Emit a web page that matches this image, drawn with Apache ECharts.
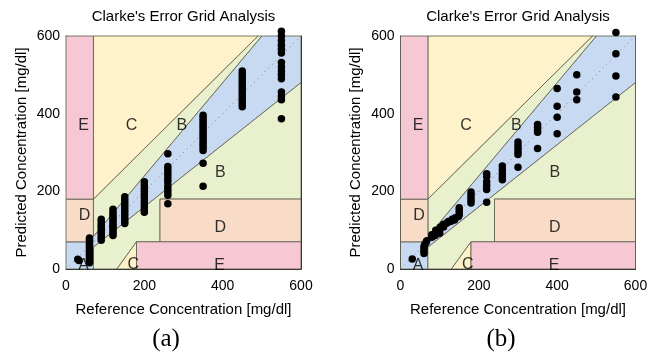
<!DOCTYPE html>
<html>
<head>
    <meta charset="utf-8"/>
    <title>Clarke's Error Grid Analysis</title>
    <script src="https://cdn.jsdelivr.net/npm/echarts@6/dist/echarts.min.js"></script>
    <style>
        html, body { margin: 0; padding: 0; background: #fff; }
        #main { width: 657px; height: 354px; }
    </style>
</head>
<body>
<div id="main"></div>
<script type="text/javascript">
    /* axis ticks */
    var ticks = [0, 200, 400, 600];

    /* panel (a): reference vs predicted */
    var refA = [30, 33,
        60, 60, 60, 60, 60, 60, 60, 60, 60, 60, 60, 60, 60, 60, 60, 60, 60,
        90, 90, 90, 90, 90, 90, 90, 90, 90, 90,
        120, 120, 120, 120, 120, 120, 120, 120, 120, 120, 120, 120,
        150, 150, 150, 150, 150, 150, 150, 150, 150, 150, 150,
        200, 200, 200, 200, 200, 200, 200, 200, 200, 200, 200,
        260, 260, 260, 260, 260, 260, 260, 260, 260, 260, 260, 260,
        350, 350, 350, 350, 350, 350, 350, 350, 350, 350, 350, 350, 350, 350, 350, 350,
        450, 450, 450, 450, 450, 450, 450, 450, 450, 450, 450, 450, 450, 450,
        550, 550, 550, 550, 550, 550, 550, 550, 550, 550, 550, 550, 550, 550, 550];
    var predA = [25, 22,
        16, 20, 24, 28, 32, 36, 40, 44, 48, 52, 56, 60, 64, 68, 72, 76, 80,
        74, 80, 86, 92, 98, 104, 110, 116, 122, 128,
        86, 92, 98, 104, 110, 116, 122, 128, 134, 140, 146, 154,
        117, 123, 130, 137, 144, 151, 158, 165, 172, 179, 186,
        146, 152, 160, 168, 176, 184, 192, 200, 208, 216, 225,
        168, 190, 198, 206, 214, 224, 232, 240, 248, 256, 264, 297,
        213, 272, 305, 312, 319, 326, 333, 340, 347, 354, 361, 368, 375, 382, 389, 396,
        418, 425, 432, 439, 446, 453, 460, 467, 474, 481, 488, 495, 502, 510,
        387, 436, 445, 456, 490, 500, 510, 520, 532, 556, 566, 576, 588, 600, 612];

    /* panel (b): reference vs predicted */
    var refB = [30,
        60, 60, 60, 60, 62, 65, 67,
        80, 80, 88, 90, 90, 100, 100, 102, 110, 110, 118, 122, 128, 132, 138, 140, 148,
        150, 150, 150, 150,
        180, 180, 180, 180, 180,
        220, 220, 220, 220, 220, 220,
        260, 260, 260, 260, 260,
        300, 300, 300, 300, 300, 300,
        350, 350, 350, 350, 350,
        400, 400, 400, 400,
        450, 450, 450,
        550, 550, 550, 550];
    var predB = [26,
        40, 46, 52, 58, 63, 68, 73,
        82, 88, 86, 95, 100, 92, 100, 108, 108, 115, 118, 122, 122, 128, 126, 132, 135,
        140, 146, 152, 158,
        170, 177, 184, 191, 198,
        172, 205, 215, 225, 238, 245,
        230, 237, 245, 255, 265,
        262, 295, 302, 310, 318, 327,
        310, 352, 358, 365, 372,
        348, 391, 419, 465,
        436, 456, 500,
        443, 497, 554, 609];

    /* Clarke zones (mg/dl) */
    var zoneKinds = ['A', 'B', 'B', 'C', 'C', 'D', 'D', 'E', 'E'];
    var zonePolys = [
        [[0, 0], [70, 0], [70, 56], [600, 480], [600, 600], [500, 600], [58.33, 70], [0, 70]],
        [[70, 84], [70, 180], [490, 600], [500, 600]],
        [[70, 0], [130, 0], [180, 70], [240, 70], [240, 180], [600, 180], [600, 480], [70, 56]],
        [[70, 180], [70, 600], [490, 600]],
        [[130, 0], [180, 0], [180, 70]],
        [[0, 70], [58.33, 70], [70, 84], [70, 180], [0, 180]],
        [[240, 70], [600, 70], [600, 180], [240, 180]],
        [[0, 180], [70, 180], [70, 600], [0, 600]],
        [[180, 0], [600, 0], [600, 70], [180, 70]]
    ];
    /* zone letters */
    var zoneText = ['E', 'C', 'B', 'B', 'D', 'D', 'A', 'C', 'E'];
    var zoneTextX = [45, 167, 296, 394, 47, 394, 45, 172, 392];
    var zoneTextY = [370, 368, 368, 247, 137, 106, 8, 12, 8];

    var diag = [[0, 0], [600, 600]];

    var zoneColor = {
        A: '#c8daf1',
        B: '#e9f0cd',
        C: '#fdf2c9',
        D: '#f8dcc7',
        E: '#f6c8d3'
    };

    var font = 'Liberation Sans, Arial, sans-serif';
    var chart = echarts.init(document.getElementById('main'), null, {renderer: 'canvas'});

    function zip(xs, ys) {
        var out = [];
        for (var i = 0; i < xs.length; i++) out.push([xs[i], ys[i]]);
        return out;
    }

    function renderZone(params, api) {
        var pts = zonePolys[params.dataIndex].map(function (p) {
            return api.coord(p);
        });
        return {
            type: 'polygon',
            shape: {points: pts},
            style: {
                fill: zoneColor[zoneKinds[params.dataIndex]],
                stroke: '#5b5b4a',
                lineWidth: 0.8
            }
        };
    }

    var grids = [
        {left: 66, top: 36, width: 235, height: 233},
        {left: 400.5, top: 36, width: 235, height: 233}
    ];

    var xAxes = [], yAxes = [], series = [];
    [0, 1].forEach(function (g) {
        var base = {
            gridIndex: g, type: 'value', min: 0, max: 600, interval: 200,
            splitLine: {show: false},
            axisLine: {show: true, onZero: false, lineStyle: {color: '#222', width: 1}},
            axisTick: {show: true, inside: true, length: 4, lineStyle: {color: '#222'}}
        };
        xAxes.push(Object.assign({}, base, {
            position: 'bottom',
            name: 'Reference Concentration [mg/dl]',
            nameLocation: 'middle', nameGap: 33,
            nameTextStyle: {fontSize: 15, color: '#000', fontFamily: font},
            axisLabel: {fontSize: 14, color: '#000', fontFamily: font, margin: 10}
        }));
        xAxes.push(Object.assign({}, base, {position: 'top', axisLabel: {show: false}}));
        yAxes.push(Object.assign({}, base, {
            position: 'left',
            name: 'Predicted Concentration [mg/dl]',
            nameLocation: 'middle', nameGap: 37,
            nameTextStyle: {fontSize: 15, color: '#000', fontFamily: font},
            axisLabel: {fontSize: 14, color: '#000', fontFamily: font, margin: 6}
        }));
        yAxes.push(Object.assign({}, base, {position: 'right', axisLabel: {show: false}}));

        var xi = g * 2, yi = g * 2;
        series.push({
            type: 'custom', xAxisIndex: xi, yAxisIndex: yi,
            renderItem: renderZone, silent: true, z: 1,
            data: zonePolys.map(function (p) { return p[0]; })
        });
        series.push({
            type: 'line', xAxisIndex: xi, yAxisIndex: yi, data: diag,
            symbol: 'none', silent: true, z: 2,
            lineStyle: {color: '#777', width: 1, type: [1, 4]}
        });
        series.push({
            type: 'scatter', xAxisIndex: xi, yAxisIndex: yi, silent: true, z: 3,
            symbolSize: 0,
            data: zoneText.map(function (t, i) {
                return {name: t, value: [zoneTextX[i], zoneTextY[i]]};
            }),
            label: {
                show: true, position: 'inside', formatter: '{b}',
                fontSize: 16, color: '#000', fontFamily: font
            }
        });
        series.push({
            type: 'scatter', xAxisIndex: xi, yAxisIndex: yi, z: 4, clip: false,
            symbolSize: 7.5,
            itemStyle: {color: '#000', opacity: 1},
            data: g === 0 ? zip(refA, predA) : zip(refB, predB)
        });
    });

    var option = {
        animation: false,
        backgroundColor: '#fff',
        grid: grids,
        xAxis: xAxes,
        yAxis: yAxes,
        series: series,
        graphic: [
            {type: 'text', x: 183.5, y: 9, silent: true,
                style: {text: "Clarke's Error Grid Analysis", fontSize: 15, fontFamily: font, fill: '#000', align: 'center', verticalAlign: 'top'}},
            {type: 'text', x: 518, y: 9, silent: true,
                style: {text: "Clarke's Error Grid Analysis", fontSize: 15, fontFamily: font, fill: '#000', align: 'center', verticalAlign: 'top'}},
            {type: 'text', x: 166, y: 339, silent: true,
                style: {text: '(a)', fontSize: 25, fontFamily: 'Liberation Serif, Times New Roman, serif', fill: '#000', align: 'center', verticalAlign: 'middle'}},
            {type: 'text', x: 501, y: 339, silent: true,
                style: {text: '(b)', fontSize: 25, fontFamily: 'Liberation Serif, Times New Roman, serif', fill: '#000', align: 'center', verticalAlign: 'middle'}}
        ]
    };

    chart.setOption(option);
    window.onresize = chart.resize;
</script>
</body>
</html>
